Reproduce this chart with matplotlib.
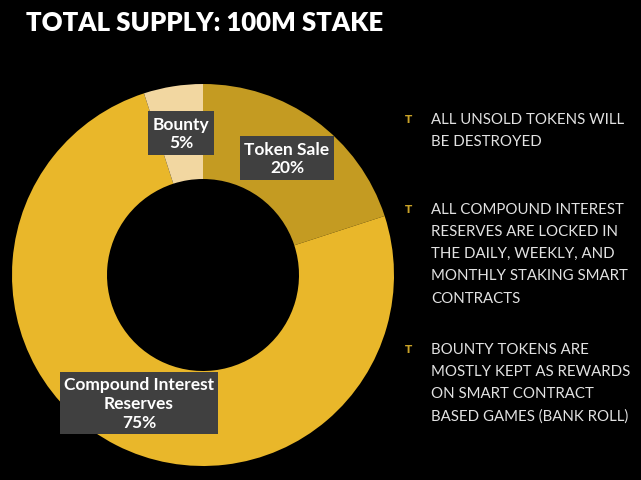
import matplotlib
matplotlib.use('Agg')
import matplotlib.pyplot as plt

# Slice data (clockwise from top)
slices = ['Token Sale', 'Compound Interest\nReserves', 'Bounty']
shares = [20, 75, 5]
colors = ['#C49B22', '#E9B72A', '#F2D7A1']

title = 'TOTAL SUPPLY: 100M STAKE'
notes = [
    'ALL UNSOLD TOKENS WILL\nBE DESTROYED',
    'ALL COMPOUND INTEREST\nRESERVES ARE LOCKED IN\nTHE DAILY, WEEKLY, AND\nMONTHLY STAKING SMART\nCONTRACTS',
    'BOUNTY TOKENS ARE\nMOSTLY KEPT AS REWARDS\nON SMART CONTRACT\nBASED GAMES (BANK ROLL)',
]

W, H = 641, 481
fig = plt.figure(figsize=(W / 100, H / 100), dpi=100, facecolor='black')
ax = fig.add_axes([0, 0, 1, 1])
ax.set_facecolor('black')

# Donut
ax.pie(shares, colors=colors, startangle=90, counterclock=False,
       center=(203, H - 276), radius=191, frame=True,
       wedgeprops=dict(width=95, edgecolor='none'))
ax.set_xlim(0, W)
ax.set_ylim(0, H)
ax.set_aspect('equal')
ax.axis('off')

# Slice labels in dark boxes
box = dict(boxstyle='square,pad=0.25', facecolor='#404040', edgecolor='none')
label_pos = [(287, 159), (139, 404), (181, 134)]
for name, val, (px, py) in zip(slices, shares, label_pos):
    ax.text(px, H - py, f'{name}\n{val}%', ha='center', va='center',
            color='white', fontsize=12.5, fontweight='bold',
            family='Lato', linespacing=1.2, bbox=box)

# Title
ax.text(26, H - 23, title, ha='left', va='center', color='white',
        fontsize=18.5, fontweight='heavy', family='Lato')

# Bullet notes
note_y = [120, 210, 350]
for txt, ny in zip(notes, note_y):
    ax.text(405, H - ny, 'T', ha='left', va='center', color='#C9A227',
            fontsize=7.5, fontweight='bold', family='DejaVu Sans')
    ax.text(431, H - ny + 7, txt, ha='left', va='top', color='#E2E2E2',
            fontsize=10.8, family='Lato', linespacing=1.74)

fig.savefig('out.png', dpi=100, facecolor='black')
